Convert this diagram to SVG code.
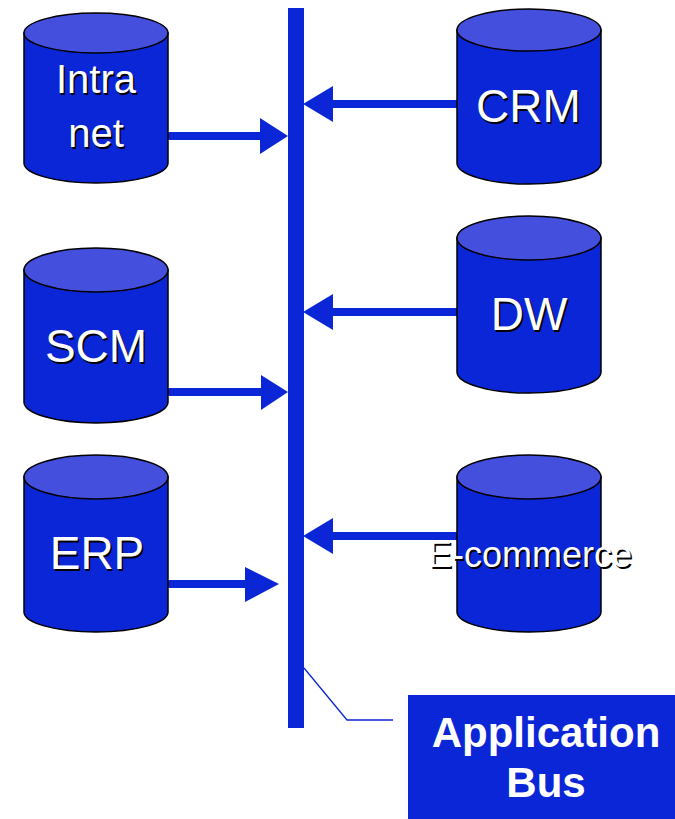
<svg xmlns="http://www.w3.org/2000/svg" width="675" height="819" viewBox="0 0 675 819">
<style>
.body{fill:#0B26D6;stroke:#000;stroke-width:1.5}
.top{fill:#454FDE;stroke:#000;stroke-width:1.5}
.lbl{font-family:"Liberation Sans",Arial,sans-serif;fill:#fff;text-anchor:middle}
.sh{font-family:"Liberation Sans",Arial,sans-serif;fill:#000;text-anchor:middle}
.conn{stroke:#0B26D6;stroke-width:8;fill:none}
.head{fill:#0B26D6}
.bus{fill:#0B26D6}
.lead{stroke:#0B26D6;stroke-width:1.3;fill:none}
.bl{font-family:"Liberation Sans",Arial,sans-serif;font-weight:bold;fill:#fff;text-anchor:middle;font-size:42px}
</style>
<rect width="675" height="819" fill="#fff"/>
<g id="connectors">
<rect class="bus" x="288" y="8" width="16" height="720"/>
<line class="conn" x1="168" y1="136" x2="262" y2="136"/>
<polygon class="head" points="260,118 288,136 260,154"/>
<line class="conn" x1="168" y1="392" x2="263" y2="392"/>
<polygon class="head" points="261,375 288,392 261,410"/>
<line class="conn" x1="168" y1="584" x2="247" y2="584"/>
<polygon class="head" points="245,567 279,584 245,602"/>
<line class="conn" x1="331" y1="104" x2="457" y2="104"/>
<polygon class="head" points="303,104 333,86 333,122"/>
<line class="conn" x1="331" y1="312" x2="457" y2="312"/>
<polygon class="head" points="303,312 333,294 333,330"/>
<line class="conn" x1="331" y1="536" x2="457" y2="536"/>
<polygon class="head" points="303,536 333,518 333,554"/>
<polyline class="lead" points="304,668 347,720 393,720"/>
</g>
<g id="intranet">
<path class="body" d="M24,33 V163 A72,20 0 0 0 168,163 V33 Z"/>
<ellipse class="top" cx="96" cy="33" rx="72" ry="20"/>
<text class="sh" x="97.5" y="94.5" font-size="40">Intra</text>
<text class="lbl" x="96" y="93" font-size="40">Intra</text>
<text class="sh" x="97.5" y="148.5" font-size="40">net</text>
<text class="lbl" x="96" y="147" font-size="40">net</text>
</g>
<g id="scm">
<path class="body" d="M24,270 V402 A72,21 0 0 0 168,402 V270 Z"/>
<ellipse class="top" cx="96" cy="270" rx="72" ry="22"/>
<text class="sh" x="97.5" y="363.5" font-size="46">SCM</text>
<text class="lbl" x="96" y="362" font-size="46">SCM</text>
</g>
<g id="erp">
<path class="body" d="M24,477 V612 A72,20 0 0 0 168,612 V477 Z"/>
<ellipse class="top" cx="96" cy="477" rx="72" ry="22"/>
<text class="sh" x="98.5" y="570.5" font-size="46">ERP</text>
<text class="lbl" x="97" y="569" font-size="46">ERP</text>
</g>
<g id="crm">
<path class="body" d="M457,30 V163 A72,21 0 0 0 601,163 V30 Z"/>
<ellipse class="top" cx="529" cy="30" rx="72" ry="21"/>
<text class="sh" x="530" y="123.5" font-size="46">CRM</text>
<text class="lbl" x="528.5" y="122" font-size="46">CRM</text>
</g>
<g id="dw">
<path class="body" d="M457,238 V372 A72,21 0 0 0 601,372 V238 Z"/>
<ellipse class="top" cx="529" cy="238" rx="72" ry="22"/>
<text class="sh" x="530.5" y="331.5" font-size="46">DW</text>
<text class="lbl" x="529" y="330" font-size="46">DW</text>
</g>
<g id="ecommerce">
<path class="body" d="M457,477 V612 A72,20 0 0 0 601,612 V477 Z"/>
<ellipse class="top" cx="529" cy="477" rx="72" ry="22"/>
<text class="sh" x="531.5" y="568.5" font-size="36">E-commerce</text>
<text class="lbl" x="530" y="567" font-size="36">E-commerce</text>
</g>
<g id="application-bus">
<rect x="408" y="695" width="267" height="124" fill="#0B26D6"/>
<text class="bl" x="546" y="747">Application</text>
<text class="bl" x="546" y="797">Bus</text>
</g>
</svg>
